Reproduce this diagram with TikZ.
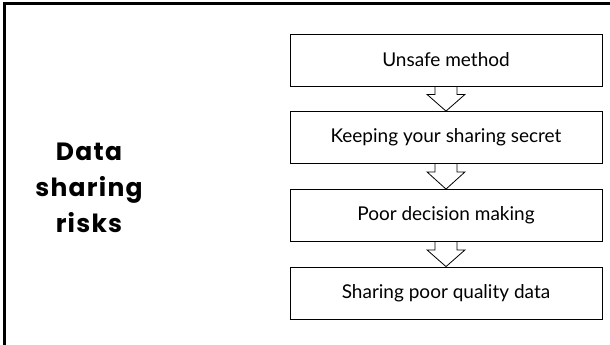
\documentclass[tikz,border=0pt]{standalone}
\usepackage{fontspec}
\setmainfont{Lato}
\newfontfamily\titlefont[LetterSpace=5]{Poppins Bold}
\usetikzlibrary{calc}

\tikzset{
  riskbox/.style={draw, line width=0.8pt, minimum width=312pt, minimum height=52pt,
    inner sep=0pt, font=\fontsize{19}{22}\selectfont},
  hollow/.style={line width=0.8pt, line join=miter}
}

\begin{document}
\begin{tikzpicture}[x=1pt, y=-1pt]
  \useasboundingbox (0,0) rectangle (610,345);
  % --- frame: top and left only ---
  \draw[line width=3pt] (4,345) -- (4,4) -- (610,4);
  % --- title ---
  \node[align=center, inner sep=0pt, font=\titlefont\fontsize{25}{36}\selectfont] (title) at (89,188)
    {Data\\sharing\\risks};
  % --- the four risks ---
  \node[riskbox] (u) at (446,60) {Unsafe method};
  \node[riskbox] (k) at (446,137.5) {Keeping your sharing secret};
  \node[riskbox] (p) at (446,215.5) {Poor decision making};
  \node[riskbox] (s) at (446,293) {Sharing poor quality data};
  % --- hollow arrows ---
  \foreach \a/\b in {u/k, k/p, p/s}
    \draw[hollow] ($(\a.south)+(-11,0)$) -- ++(0,8) -- ++(-8,0) -- (\b.north)
      -- ($(\a.south)+(19,8)$) -- ++(-8,0) -- ++(0,-8);
\end{tikzpicture}
\end{document}
